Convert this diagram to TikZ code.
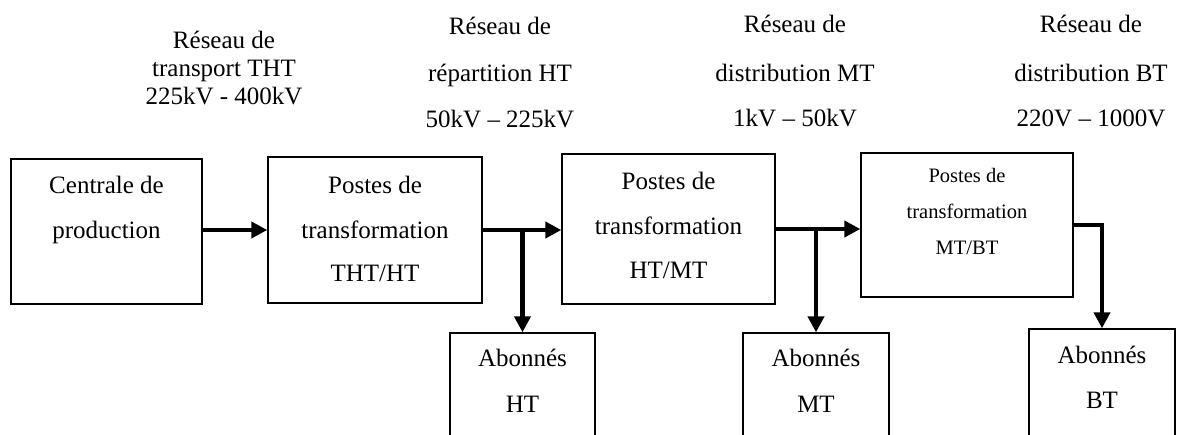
\documentclass[tikz,border=0pt]{standalone}
\usepackage{fontspec}
\setmainfont{Liberation Serif}
\usetikzlibrary{arrows.meta}
\tikzset{
  box/.style={draw=black, line width=1.4pt, rectangle, inner sep=0pt, fill=white},
  txt/.style={anchor=base, inner sep=0pt, font=\fontsize{25}{30}\selectfont},
  txts/.style={anchor=base, inner sep=0pt, font=\fontsize{20.5}{25}\selectfont},
  arr/.style={line width=4.5pt, -{Triangle[length=16pt, width=16pt]}}
}
\begin{document}
\begin{tikzpicture}[x=1pt, y=-1pt]
\useasboundingbox (0,0) rectangle (1184,434);
\clip (0,0) rectangle (1184,434);
\fill[white] (0,0) rectangle (1184,434);
% boxes
\node[box, minimum width=191pt, minimum height=145pt] (b1) at (106.5,231.5) {};
\node[box, minimum width=214pt, minimum height=146pt] (b2) at (375,230) {};
\node[box, minimum width=213pt, minimum height=150pt] (b3) at (668.5,229) {};
\node[box, minimum width=212pt, minimum height=144pt] (b4) at (967,225) {};
\node[box, minimum width=145pt, minimum height=120pt] (aht) at (522.5,393) {};
\node[box, minimum width=146pt, minimum height=120pt] (amt) at (816,393) {};
\node[box, minimum width=146pt, minimum height=120pt] (abt) at (1102,389) {};
% box texts
\node[txt] (t1a) at (106.5,193) {Centrale de};
\node[txt] (t1b) at (106.5,238) {production};
\node[txt] (t2a) at (375,193) {Postes de};
\node[txt] (t2b) at (375,238) {transformation};
\node[txt] (t2c) at (375,281) {THT/HT};
\node[txt] (t3a) at (668.5,189) {Postes de};
\node[txt] (t3b) at (668.5,234) {transformation};
\node[txt] (t3c) at (668.5,278) {HT/MT};
\node[txts] (t4a) at (967,182) {Postes de};
\node[txts] (t4b) at (967,218) {transformation};
\node[txts] (t4c) at (967,254) {MT/BT};
\node[txt] (t5a) at (522.5,366) {Abonnés};
\node[txt] (t5b) at (522.5,412) {HT};
\node[txt] (t6a) at (816,366) {Abonnés};
\node[txt] (t6b) at (816,412) {MT};
\node[txt] (t7a) at (1102,363) {Abonnés};
\node[txt] (t7b) at (1102,408) {BT};
% top labels
\node[txt] (l1a) at (224,48) {Réseau de};
\node[txt] (l1b) at (224,76) {transport THT};
\node[txt] (l1c) at (224,104) {225kV - 400kV};
\node[txt] (l2a) at (500,34) {Réseau de};
\node[txt] (l2b) at (500,81) {répartition HT};
\node[txt] (l2c) at (500,127) {50kV – 225kV};
\node[txt] (l3a) at (795,32) {Réseau de};
\node[txt] (l3b) at (795,81) {distribution MT};
\node[txt] (l3c) at (795,126) {1kV – 50kV};
\node[txt] (l4a) at (1091,32) {Réseau de};
\node[txt] (l4b) at (1091,81) {distribution BT};
\node[txt] (l4c) at (1091,126) {220V – 1000V};
% connectors
\draw[arr] (b1.east |- b2.west) -- (b2.west);
\draw[arr] (b2.east) -- (b3.west |- b2.east);
\coordinate (j1) at (aht.north |- b2.east);
\draw[arr] (j1) -- (aht.north);
\draw[arr] (b3.east) -- (b4.west |- b3.east);
\coordinate (j2) at (amt.north |- b3.east);
\draw[arr] (j2) -- (amt.north);
\coordinate (j3) at (abt.north |- b4.east);
\draw[arr] (b4.east) -- (j3) -- (abt.north);
\end{tikzpicture}
\end{document}
